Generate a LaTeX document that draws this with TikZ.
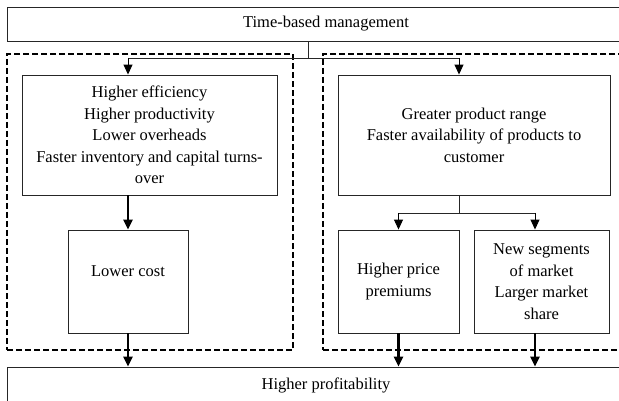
\documentclass[tikz,border=0pt]{standalone}
\usepackage{fontspec}
\setmainfont{Liberation Serif}
\usetikzlibrary{arrows.meta}
\begin{document}
\begin{tikzpicture}[x=1pt,y=-1pt,
  box/.style={draw=black!85,line width=0.9pt,rectangle,inner sep=0pt,align=center,
    font=\fontsize{16.5}{21.5}\selectfont},
  dashbox/.style={draw=black,line width=1.7pt,dash pattern=on 6pt off 3pt,rectangle,inner sep=0pt},
  link/.style={draw=black!85,line width=0.9pt},
  thinarrow/.style={draw=black,line width=1pt,-{Triangle[length=10pt,width=9pt]}},
  thickarrow/.style={draw=black,line width=2.5pt,-{Triangle[length=10pt,width=9pt]}}]
\useasboundingbox (0,0) rectangle (619,401);
\fill[white] (0,0) rectangle (619,401);
% frames
\node[dashbox,minimum width=286pt,minimum height=296pt] (leftgrp) at (150,202) {};
\node[dashbox,minimum width=322pt,minimum height=296pt] (rightgrp) at (484,202) {};
% boxes
\node[box,minimum width=638pt,minimum height=34pt] (top) at (326,24) {Time-based management};
\node[box,minimum width=638pt,minimum height=36pt] (bottom) at (326,385) {Higher profitability};
\node[box,minimum width=255pt,minimum height=120pt] (eff) at (149.5,135)
  {Higher efficiency\\Higher productivity\\Lower overheads\\Faster inventory and capital turns-\\over};
\node[box,minimum width=120pt,minimum height=103pt] (cost) at (128,281.5) {Lower cost\\\mbox{}};
\node[box,minimum width=272pt,minimum height=120pt] (range) at (474,135)
  {Greater product range\\Faster availability of products to\\customer};
\node[box,minimum width=121pt,minimum height=103pt] (price) at (398.5,281.5) {Higher price\\premiums};
\node[box,minimum width=135pt,minimum height=103pt] (seg) at (541.5,281.5)
  {New segments\\of market\\Larger market\\share};
% junction coordinates
\coordinate (jt) at (308,58);
\coordinate (jl) at (128,58);
\coordinate (jr) at (459,58);
\coordinate (jb) at (459,213);
\coordinate (jbl) at (398.5,213);
\coordinate (jbr) at (535,213);
% connectors
\draw[link] (top.south -| jt) -- (jt);
\draw[link] (jl) -- (jr);
\draw[thinarrow] (jl) -- (eff.north -| jl);
\draw[thinarrow] (jr) -- (range.north -| jr);
\draw[thickarrow] (eff.south -| cost.north) -- (cost.north);
\draw[link] (range.south -| jb) -- (jb);
\draw[link] (jbl) -- (jbr);
\draw[thinarrow] (jbl) -- (price.north);
\draw[thinarrow] (jbr) -- (seg.north -| jbr);
\draw[thickarrow] (cost.south) -- (bottom.north -| cost.south);
\draw[thickarrow] (price.south) -- (bottom.north -| price.south);
\draw[thickarrow] (seg.south -| jbr) -- (bottom.north -| jbr);
\end{tikzpicture}
\end{document}
